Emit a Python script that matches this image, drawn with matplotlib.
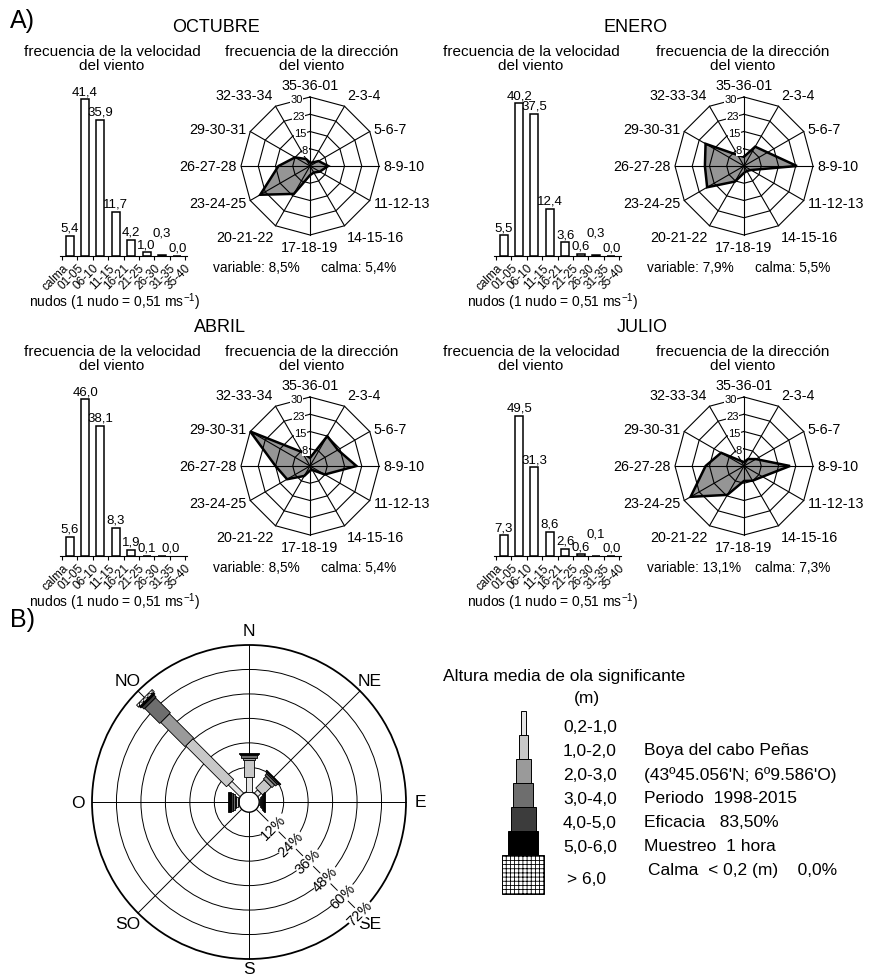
import matplotlib
matplotlib.use("Agg")
import matplotlib.pyplot as plt
from matplotlib.patches import Polygon, Circle, Rectangle
import numpy as np

plt.rcParams['font.family'] = ['Liberation Sans', 'DejaVu Sans']
plt.rcParams['mathtext.fontset'] = 'custom'
plt.rcParams['mathtext.rm'] = 'Liberation Sans'
plt.rcParams['mathtext.it'] = 'Liberation Sans'
plt.rcParams['hatch.linewidth'] = 0.6

W, H = 871, 978

# ---- data: wind (A) ----
months = ['OCTUBRE', 'ENERO', 'ABRIL', 'JULIO']
speed_bins = ['calma', '01-05', '06-10', '11-15', '16-21', '21-25',
              '26-30', '31-35', '35-40']
speed_oct = [5.4, 41.4, 35.9, 11.7, 4.2, 1.0, 0.3, 0.0]
speed_ene = [5.5, 40.2, 37.5, 12.4, 3.6, 0.6, 0.3, 0.0]
speed_abr = [5.6, 46.0, 38.1, 8.3, 1.9, 0.1, 0.0]
speed_jul = [7.3, 49.5, 31.3, 8.6, 2.6, 0.6, 0.1, 0.0]

dir_labels = ['35-36-01', '2-3-4', '5-6-7', '8-9-10', '11-12-13', '14-15-16',
              '17-18-19', '20-21-22', '23-24-25', '26-27-28', '29-30-31',
              '32-33-34']
dir_rings = [7.5, 15, 22.5, 30]
dir_ring_labels = ['8', '15', '23', '30']
dir_oct = [1.5, 1.7, 4.3, 7.9, 4.9, 3.3, 4.0, 14.0, 25.0, 13.7, 7.5, 3.5]
dir_ene = [4.0, 9.7, 11.8, 23.0, 3.5, 2.5, 3.0, 7.8, 18.5, 17.0, 19.3, 5.5]
dir_abr = [3.5, 15.0, 14.0, 20.2, 7.4, 2.0, 2.0, 5.0, 11.5, 15.0, 30.0, 7.0]
dir_jul = [1.7, 3.5, 6.0, 20.0, 9.3, 7.4, 6.5, 14.5, 26.8, 16.7, 11.5, 2.5]

variable = ['8,5%', '7,9%', '8,5%', '13,1%']
calma = ['5,4%', '5,5%', '5,4%', '7,3%']

# ---- data: waves (B) ----
rose_dirs = ['N', 'NE', 'E', 'SE', 'S', 'SO', 'O', 'NO']
rose_angles = [0, 45, 90, 135, 180, 225, 270, 315]
rose_rings = [12, 24, 36, 48, 60, 72]
wave_classes = ['0,2-1,0', '1,0-2,0', '2,0-3,0', '3,0-4,0', '4,0-5,0',
                '5,0-6,0', '> 6,0']
# percentage per height class, for each direction
wave_n = [7.4, 8.0, 1.3, 1.2, 0.7, 0.6, 0.0]
wave_ne = [2.2, 5.8, 1.8, 1.2, 0.8, 0.4, 0.0]
wave_e = [0.3, 0.7, 0.6, 0.5, 0.4, 0.2, 0.0]
wave_se = [0, 0, 0, 0, 0, 0, 0]
wave_s = [0, 0, 0, 0, 0, 0, 0]
wave_so = [0, 0, 0, 0, 0, 0, 0]
wave_o = [0.3, 0.9, 0.8, 0.8, 0.8, 1.6, 0.0]
wave_no = [8.1, 28.3, 16.8, 10.4, 1.5, 1.0, 1.5]
info_lines = ['Boya del cabo Peñas', "(43º45.056'N; 6º9.586'O)",
              'Periodo  1998-2015', 'Eficacia   83,50%',
              'Muestreo  1 hora', 'Calma  < 0,2 (m)    0,0%']

wave_colors = ['#e6e6e6', '#c8c8c8', '#9a9a9a', '#6e6e6e', '#3c3c3c',
               '#000000', 'white']


def px_axes(fig, left, top, w, h):
    return fig.add_axes([left / W, 1 - (top + h) / H, w / W, h / H])


fig = plt.figure(figsize=(W / 100, H / 100), dpi=100)
canvas = px_axes(fig, 0, 0, W, H)
canvas.set_xlim(0, W)
canvas.set_ylim(H, 0)
canvas.axis('off')


def bar_panel(values, dx, dy, scale, raised, shifts):
    ax = px_axes(fig, 59.7 + dx, 67 + dy, 127.6, 190)
    x = np.arange(len(values)) + 0.5
    ax.bar(x, values, width=0.52, color='white', edgecolor='black', lw=1.1)
    for i, v in enumerate(values):
        off = 12 if i in raised else 1.5
        ax.annotate(f'{v:.1f}'.replace('.', ','), (x[i] + shifts.get(i, 0), v),
                    xytext=(0, off), textcoords='offset points',
                    ha='center', va='bottom', fontsize=9.5)
    ax.set_xlim(-0.15, 8.15)
    ax.set_ylim(0, 190 / scale)
    for s in ['left', 'right', 'top']:
        ax.spines[s].set_visible(False)
    ax.set_yticks([])
    ax.set_xticks(range(len(speed_bins)))
    ax.set_xticklabels(speed_bins, rotation=45, ha='right',
                       rotation_mode='anchor', fontsize=8.5)
    ax.tick_params(axis='x', length=3, pad=1)
    ax.patch.set_visible(False)


def radar_panel(values, cx, cy, var_txt, cal_txt):
    upp = 30 / 69.0
    half = 105
    ax = px_axes(fig, cx - half, cy - half, 2 * half, 2 * half)
    lim = half * upp
    ax.set_xlim(-lim, lim)
    ax.set_ylim(-lim, lim)
    ax.set_aspect('equal')
    ax.axis('off')
    ang = np.deg2rad(np.arange(12) * 30)
    vals = np.array(values)
    ax.fill(vals * np.sin(ang), vals * np.cos(ang), facecolor='#959595',
            edgecolor='black', lw=1.8, zorder=2)
    closed = np.append(ang, ang[0])
    for r in dir_rings:
        ax.plot(r * np.sin(closed), r * np.cos(closed), color='black',
                lw=0.8, zorder=3)
    for a in ang:
        ax.plot([0, 30 * np.sin(a)], [0, 30 * np.cos(a)], color='black',
                lw=0.8, zorder=3)
    for r, lab in zip(dir_rings, dir_ring_labels):
        a = np.deg2rad(-6)
        ax.text(r * np.sin(a), r * np.cos(a) - 0.6, lab, ha='right',
                va='center', fontsize=8, zorder=4,
                bbox=dict(facecolor='white', edgecolor='none', pad=0.2))
    for a, lab in zip(ang, dir_labels):
        s, c = np.sin(a), np.cos(a)
        ha = 'left' if s > 0.1 else ('right' if s < -0.1 else 'center')
        va = 'bottom' if c > 0.7 else ('top' if c < -0.7 else 'center')
        rl = 32.0
        ax.text(rl * s, rl * c, lab, ha=ha, va=va, fontsize=10.3,
                clip_on=False)
    canvas.text(cx - 97, cy + 101, 'variable: ' + var_txt, ha='left',
                va='center', fontsize=9.8)
    canvas.text(cx + 11, cy + 101, 'calma: ' + cal_txt, ha='left',
                va='center', fontsize=9.8)


speeds = [speed_oct, speed_ene, speed_abr, speed_jul]
dirs = [dir_oct, dir_ene, dir_abr, dir_jul]
scales = [3.79, 3.80, 3.41, 2.83]
raised = [{6}, {6}, set(), {6}]
label_shifts = [{}, {}, {6: 0.55}, {}]
title_x = [216, 636, 220, 642]

for k in range(4):
    col, row = k % 2, k // 2
    dx, dy = 434 * col, 300 * row
    bar_panel(speeds[k], dx, dy, scales[k], raised[k], label_shifts[k])
    radar_panel(dirs[k], 310 + dx, 167 + dy, variable[k], calma[k])
    canvas.text(title_x[k], 28 + dy, months[k], ha='center', va='center',
                fontsize=13)
    sx = 112 + 419 * col
    canvas.text(sx, 59 + dy, 'frecuencia de la velocidad\ndel viento',
                ha='center', va='center', fontsize=11, linespacing=1.0)
    canvas.text(312 + 431 * col, 59 + dy,
                'frecuencia de la dirección\ndel viento',
                ha='center', va='center', fontsize=11, linespacing=1.0)
    canvas.text(115 + 438 * col, 302 + dy,
                'nudos (1 nudo = 0,51 ms$^{-1}$)', ha='center', va='center',
                fontsize=10)

canvas.text(10, 21, 'A)', ha='left', va='center', fontsize=18)
canvas.text(10, 620, 'B)', ha='left', va='center', fontsize=18)

# ---- wave rose ----
R0 = 5.0
upp = 77 / 157.0
half = 175
cx, cy = 249, 803
rax = px_axes(fig, cx - half, cy - half, 2 * half, 2 * half)
lim = half * upp
rax.set_xlim(-lim, lim)
rax.set_ylim(-lim, lim)
rax.set_aspect('equal')
rax.axis('off')

for p in rose_rings:
    rax.add_patch(Circle((0, 0), R0 + p, fill=False, edgecolor='black',
                         lw=1.3 if p == rose_rings[-1] else 0.7, zorder=1))
for a in rose_angles:
    t = np.deg2rad(a)
    rax.plot([R0 * np.sin(t), (R0 + 72) * np.sin(t)],
             [R0 * np.cos(t), (R0 + 72) * np.cos(t)], color='black',
             lw=0.7, zorder=1)
rax.add_patch(Circle((0, 0), R0, facecolor='white', edgecolor='black',
                     lw=1.0, zorder=2))

seg_widths = [2.5, 5.0, 6.0, 7.4, 8.4, 9.8, 10.8]
wave_all = [wave_n, wave_ne, wave_e, wave_se, wave_s, wave_so, wave_o, wave_no]
for a, segs in zip(rose_angles, wave_all):
    t = np.deg2rad(a)
    u = np.array([np.sin(t), np.cos(t)])
    v = np.array([np.cos(t), -np.sin(t)])
    r0 = R0
    for k, p in enumerate(segs):
        if p <= 0:
            continue
        r1 = r0 + p
        hw = seg_widths[k] / 2
        pts = [r0 * u + hw * v, r1 * u + hw * v, r1 * u - hw * v,
               r0 * u - hw * v]
        rax.add_patch(Polygon(pts, closed=True, facecolor=wave_colors[k],
                              edgecolor='black', lw=0.6, zorder=3,
                              hatch='++++' if k == 6 else None))
        r0 = r1

for p in rose_rings:
    t = np.deg2rad(135)
    r = R0 + p
    rax.text(r * np.sin(t), r * np.cos(t), f'{p}%', rotation=45,
             ha='center', va='center', fontsize=10.5, zorder=4,
             bbox=dict(facecolor='white', edgecolor='none', pad=0.2))

for a, lab in zip(rose_angles, rose_dirs):
    t = np.deg2rad(a)
    rl = 81.5 if a == 180 else 84
    rax.text(rl * np.sin(t), rl * np.cos(t), lab, ha='center', va='center',
             fontsize=12.5, clip_on=False)

# ---- legend ----
canvas.text(564, 677, 'Altura media de ola significante', ha='center',
            va='center', fontsize=12.5)
canvas.text(587, 698, '(m)', ha='center', va='center', fontsize=12.5)
leg_w = [5, 9, 15, 20, 25, 30, 42]
for k, (lab, wpx) in enumerate(zip(wave_classes, leg_w)):
    top = 712 + 24 * k
    hgt = 24 if k < 6 else 39
    canvas.add_patch(Rectangle((523 - wpx / 2, top), wpx, hgt,
                               facecolor=wave_colors[k], edgecolor='black',
                               lw=0.7, hatch='++++' if k == 6 else None))
    ly = 727 + 24 * k if k < 6 else 879
    canvas.text(563 if k < 6 else 567, ly, lab, ha='left', va='center',
                fontsize=12.5)
for k, line in enumerate(info_lines):
    canvas.text(644 if k < 5 else 648, 751 + 23.8 * k, line, ha='left',
                va='center', fontsize=12.5)

fig.savefig('out.png', dpi=100)
